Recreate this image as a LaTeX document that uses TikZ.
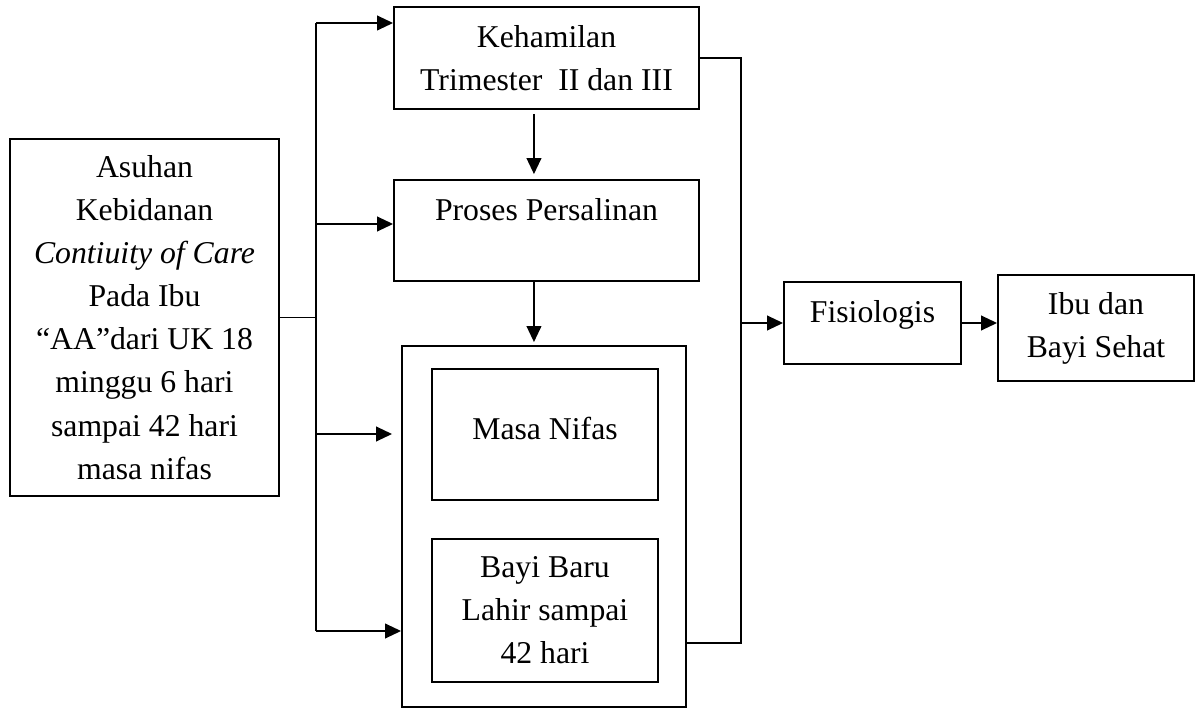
\documentclass[tikz,border=0pt]{standalone}
\usepackage{fontspec}
\setmainfont{Liberation Serif}
\usetikzlibrary{positioning,arrows.meta}

\begin{document}
\begin{tikzpicture}[
  x=0.75pt, y=-0.75pt,
  block/.style={rectangle, draw, line width=1.4pt, align=center, inner sep=0pt, font=\fontsize{23.8}{32.3}\selectfont},
  arrow/.style={-{Triangle[length=12pt,width=11pt]}, line width=1.4pt},
  link/.style={line width=1.4pt},
  node distance=129.4pt
]
\useasboundingbox (0,0) rectangle (1199,709);

\node[block, minimum width=201.75pt, minimum height=267.75pt] (asuhan) at (144.5,317.5) {Asuhan\\Kebidanan\\\textit{Contiuity of Care}\\Pada Ibu\\“AA”dari UK 18\\minggu 6 hari\\sampai 42 hari\\masa nifas};
\node[block, minimum width=228.75pt, minimum height=76.5pt] (kehamilan) at (546.5,58) {Kehamilan\\Trimester~~II dan III};
\node[block, minimum width=228.75pt, minimum height=75.75pt, text depth=31.5pt, below of=kehamilan] (proses) {Proses Persalinan};
\node[block, minimum width=213pt, minimum height=270.75pt] (nifasbayi) at (544,526.5) {};
\node[block, minimum width=169.5pt, minimum height=98.25pt, text depth=9.8pt] (nifas) at (545,434.5) {Masa Nifas};
\node[block, minimum width=169.5pt, minimum height=107.25pt, below of=nifas, node distance=132pt] (bayi) {Bayi Baru\\Lahir sampai\\42 hari};
\node[block, minimum width=132.75pt, minimum height=61.5pt, text depth=17pt] (fisiologis) at (872.5,323) {Fisiologis};
\node[block, minimum width=147pt, minimum height=79.5pt] (sehat) at (1096,328) {Ibu dan\\Bayi Sehat};

% Cabang kiri
\coordinate (spinetop) at (316,23);
\coordinate (toproses) at (316,224);
\coordinate (tonifas) at (316,434);
\coordinate (spinebot) at (316,631);
\draw[link] (asuhan.east) -- (asuhan.east -| spinetop);
\draw[link] (spinetop) -- (spinebot);
\draw[arrow] (spinetop) -- (spinetop -| kehamilan.west);
\draw[arrow] (toproses) -- (toproses -| proses.west);
\draw[arrow, shorten >=6.75pt] (tonifas) -- (tonifas -| nifasbayi.west);
\draw[arrow] (spinebot) -- (spinebot -| nifasbayi.west);

% Alur tengah
\draw[arrow, shorten <=3pt, shorten >=3.75pt] ([xshift=-9.4pt]kehamilan.south) -- ([xshift=-9.4pt]proses.north);
\draw[arrow, shorten >=2.25pt] ([xshift=-9.4pt]proses.south) -- ([xshift=-9.4pt]proses.south |- nifasbayi.north);

% Cabang kanan
\coordinate (rail) at (741,643);
\draw[link] (kehamilan.east) -| (rail) -- (rail -| nifasbayi.east);
\draw[arrow] (rail |- fisiologis.west) -- (fisiologis.west);
\draw[arrow] (fisiologis.east) -- (fisiologis.east -| sehat.west);
\end{tikzpicture}
\end{document}
